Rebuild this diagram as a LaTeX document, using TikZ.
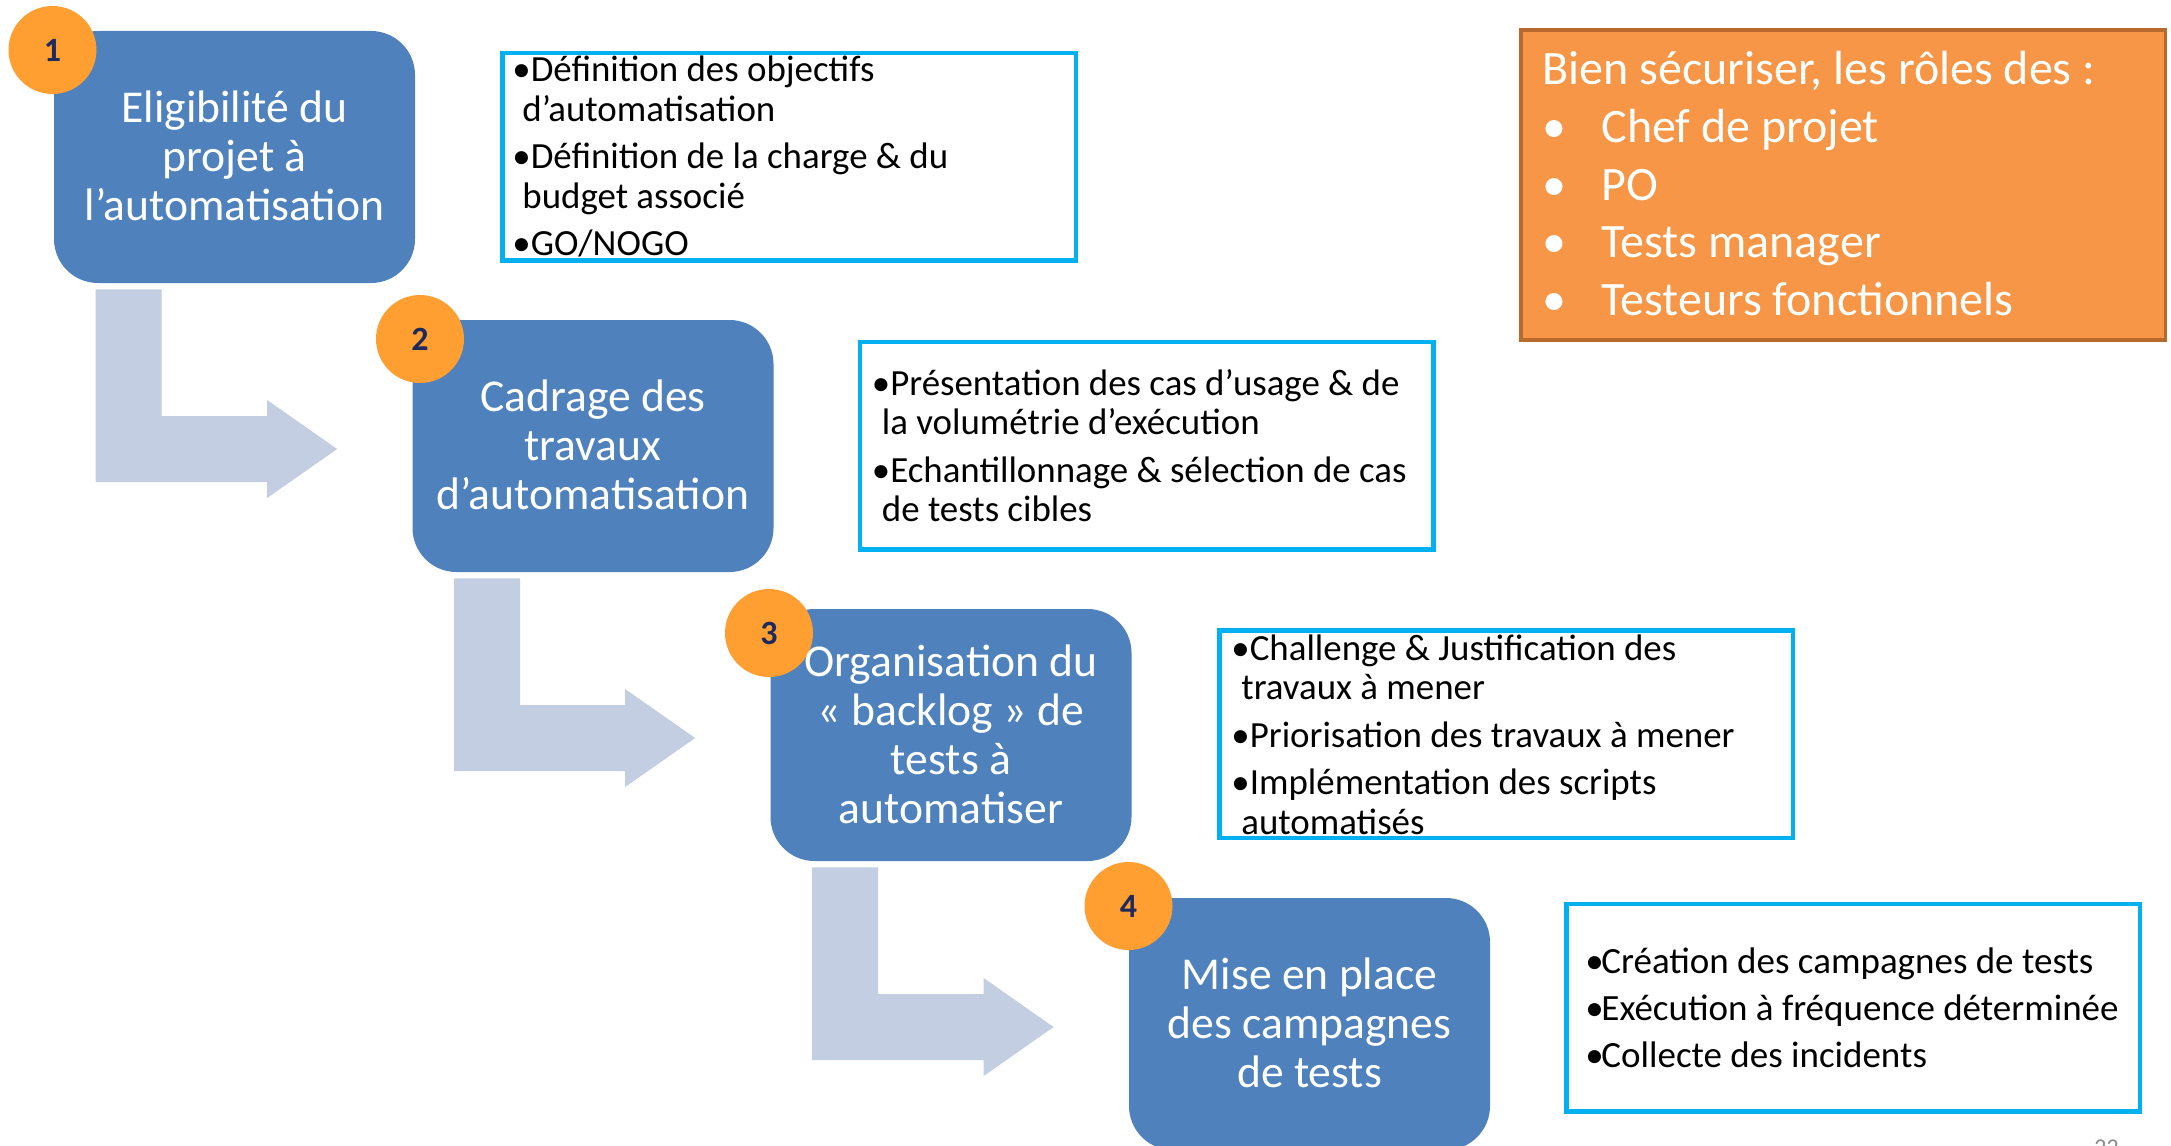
\documentclass[tikz,border=0pt]{standalone}
\usepackage{fontspec}
\setmainfont{Carlito}
\usetikzlibrary{calc}
\definecolor{boxblue}{HTML}{4F81BD}
\definecolor{arrowgrey}{RGB}{195,206,226}
\definecolor{badge}{HTML}{FF9F31}
\definecolor{navy}{HTML}{1F2A5C}
\definecolor{cyanline}{HTML}{00B0F0}
\definecolor{orangefill}{HTML}{F79646}
\definecolor{orangeline}{HTML}{B7692E}
\definecolor{pagegrey}{HTML}{8C8C8C}
\tikzset{
  stepbox/.style={fill=boxblue, rounded corners=22pt, minimum width=180.5pt, minimum height=126pt, inner sep=0pt},
  steptext/.style={text=white, align=center, font=\fontsize{22.8}{24.5}\selectfont, inner sep=0pt},
  badgecircle/.style={circle, fill=badge, minimum size=44pt, inner sep=0pt, text=navy, font=\fontsize{17}{20}\selectfont\bfseries},
  infobox/.style={draw=cyanline, line width=2.25pt, fill=white, minimum width=286.75pt, minimum height=103.75pt, inner sep=0pt},
  infotext/.style={align=left, anchor=west, font=\fontsize{18.45}{19.75}\selectfont, inner sep=0pt},
  rolebox/.style={draw=orangeline, fill=orangefill, line width=1.7pt, minimum width=322.3pt, minimum height=155pt, inner sep=0pt},
  roletext/.style={text=white, align=left, anchor=north west, font=\fontsize{24}{28.85}\selectfont, inner sep=0pt},
  flowarrow/.style={fill=arrowgrey},
  pagenum/.style={text=pagegrey, font=\fontsize{12}{14}\selectfont, inner sep=0pt, anchor=north}
}
\newcommand\bentarrow[2]{%
  \coordinate (s) at ($(#1.south west)+(42,6)$);
  \coordinate (t) at ($(#2.west)+(-75,3)$);
  \fill[flowarrow] (s) -- ($(s)+(66,0)$) -- ($(s |- t)+(66,-33)$) -- ($(t)+(-70,-33)$)
    -- ($(t)+(-70,-49)$) -- (t) -- ($(t)+(-70,49)$) -- ($(t)+(-70,33)$)
    -- ($(s |- t)+(0,33)$) -- cycle;
}
\begin{document}
\begin{tikzpicture}[x=0.5pt, y=-0.5pt]
\useasboundingbox (0,0) rectangle (2171,1145);
\clip (0,0) rectangle (2171,1145);
\fill[white] (0,0) rectangle (2171,1145);

% step boxes
\node[stepbox] (b1) at (234.5,157) {};
\node[stepbox] (b2) at (593,446) {};
\node[stepbox] (b3) at (951,735) {};
\node[stepbox] (b4) at (1309.5,1024) {};

% bent arrows
\bentarrow{b1}{b2}
\bentarrow{b2}{b3}
\bentarrow{b3}{b4}

% badges
\node[badgecircle] (c1) at (52.5,50) {1};
\node[badgecircle] (c2) at (420,339) {2};
\node[badgecircle] (c3) at (769,633) {3};
\node[badgecircle] (c4) at (1128.5,906) {4};

% step texts
\node[steptext] (s1) at ($(b1.center)+(0,-1)$) {Eligibilité du\\projet à\\l’automatisation};
\node[steptext] (s2) at ($(b2.center)+(0,-1)$) {Cadrage des\\travaux\\d’automatisation};
\node[steptext] (s3) at ($(b3.center)+(0,-1)$) {Organisation du\\«~backlog~» de\\tests à\\automatiser};
\node[steptext] (s4) at ($(b4.center)+(0,-1)$) {Mise en place\\des campagnes\\de tests};

% info boxes
\node[infobox] (tb1) at (789,156.6) {};
\node[infotext] (tt1) at ($(tb1.west)+(12,0)$) {\textbullet Définition des objectifs\\
\hspace*{5pt}d’automatisation\\[4pt]
\textbullet Définition de la charge \& du\\
\hspace*{5pt}budget associé\\[4pt]
\textbullet GO/NOGO};

\node[infobox] (tb2) at (1146.5,445.7) {};
\node[infotext] (tt2) at ($(tb2.west)+(14,0)$) {\textbullet Présentation des cas d’usage \& de\\
\hspace*{5pt}la volumétrie d’exécution\\[4pt]
\textbullet Echantillonnage \& sélection de cas\\
\hspace*{5pt}de tests cibles};

\node[infobox] (tb3) at (1506,734.4) {};
\node[infotext] (tt3) at ($(tb3.west)+(14,0)$) {\textbullet Challenge \& Justification des\\
\hspace*{5pt}travaux à mener\\[4pt]
\textbullet Priorisation des travaux à mener\\[4pt]
\textbullet Implémentation des scripts\\
\hspace*{5pt}automatisés};

\node[infobox] (tb4) at (1853,1007.5) {};
\node[infotext, font=\fontsize{18.5}{23.5}\selectfont] (tt4) at ($(tb4.west)+(21,0)$) {\makebox[8pt][l]{\textbullet}Création des campagnes de tests\\
\makebox[8pt][l]{\textbullet}Exécution à fréquence déterminée\\
\makebox[8pt][l]{\textbullet}Collecte des incidents};

% roles box
\node[rolebox] (ob) at (1843.1,185) {};
\node[roletext] (ot) at (1542,51) {Bien sécuriser, les rôles des :\\
\makebox[29.5pt][l]{\textbullet}Chef de projet\\
\makebox[29.5pt][l]{\textbullet}PO\\
\makebox[29.5pt][l]{\textbullet}Tests manager\\
\makebox[29.5pt][l]{\textbullet}Testeurs fonctionnels};

% page number
\node[pagenum] (pn) at (2106.5,1140) {22};
\end{tikzpicture}
\end{document}
